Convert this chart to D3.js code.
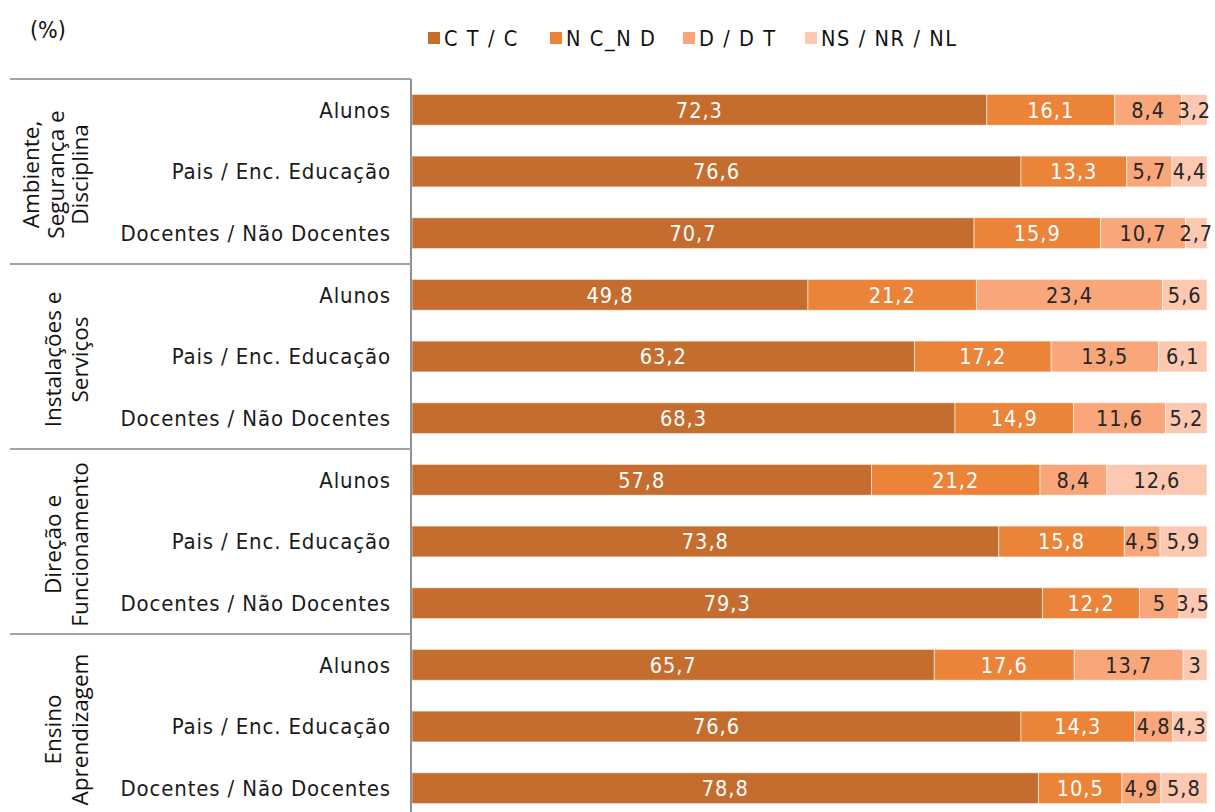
<!DOCTYPE html>
<html><head><meta charset="utf-8">
<script src="https://cdn.jsdelivr.net/npm/d3@7"></script>
<style>
html,body{margin:0;padding:0;background:#fff;}
svg{display:block;}
</style></head>
<body>
<svg id="chart" width="1215" height="812"></svg>
<script>
// ---- data ----
const groups = [
  ["Ambiente,", "Segurança e", "Disciplina"],
  ["Instalações e", "Serviços"],
  ["Direção e", "Funcionamento"],
  ["Ensino", "Aprendizagem"]
];
const respondents = ["Alunos", "Pais / Enc. Educação", "Docentes / Não Docentes"];
const seriesNames = ["C T / C", "N C_N D", "D / D T", "NS / NR / NL"];
const ctc   = [72.3, 76.6, 70.7, 49.8, 63.2, 68.3, 57.8, 73.8, 79.3, 65.7, 76.6, 78.8];
const ncnd  = [16.1, 13.3, 15.9, 21.2, 17.2, 14.9, 21.2, 15.8, 12.2, 17.6, 14.3, 10.5];
const ddt   = [8.4, 5.7, 10.7, 23.4, 13.5, 11.6, 8.4, 4.5, 5, 13.7, 4.8, 4.9];
const nsnr  = [3.2, 4.4, 2.7, 5.6, 6.1, 5.2, 12.6, 5.9, 3.5, 3, 4.3, 5.8];
const colors = ["#C46D2E", "#EB8439", "#F9A77A", "#FCC8B1"];
const labelColors = ["#ffffff", "#ffffff", "#262626", "#262626"];

// ---- build rows ----
const seriesVals = [ctc, ncnd, ddt, nsnr];
const rows = [];
groups.forEach((g, gi) => respondents.forEach((r, ri) => rows.push({id: gi*3+ri, group: gi, resp: r})));

const svg = d3.select("#chart");
const FONT = "'DejaVu Sans Condensed', 'DejaVu Sans', sans-serif";

const x = d3.scaleLinear().domain([0, 100]).range([412, 1207]);
const y = d3.scaleBand().domain(rows.map(d => d.id)).range([79, 819]).paddingInner(0.5).paddingOuter(0.25);

// stacked
const stackData = rows.map(d => {
  const o = {id: d.id};
  seriesNames.forEach((s, si) => o[s] = seriesVals[si][d.id]);
  return o;
});
const stacked = d3.stack().keys(seriesNames)(stackData);

const layers = svg.append("g").selectAll("g").data(stacked).join("g")
  .attr("fill", (d, i) => colors[i]);
layers.selectAll("rect").data(d => d).join("rect")
  .attr("x", d => x(d[0]))
  .attr("y", d => y(d.data.id))
  .attr("width", d => x(d[1]) - x(d[0]))
  .attr("height", y.bandwidth())
  .attr("stroke", "#fff").attr("stroke-opacity", 0.55).attr("stroke-width", 1);

// data labels
const lab = svg.append("g").style("font-family", FONT).style("font-size", "21.5px");
stacked.forEach((layer, si) => {
  lab.selectAll(null).data(layer).join("text")
    .attr("x", d => (x(d[0]) + x(d[1])) / 2)
    .attr("y", d => y(d.data.id) + y.bandwidth() / 2)
    .attr("dy", "0.36em")
    .attr("text-anchor", "middle")
    .attr("fill", labelColors[si])
    .style("letter-spacing", "1px")
    .text(d => String(seriesVals[si][d.data.id]).replace(".", ","));
});

// axis line and category labels
const yAxis = d3.axisLeft(y).tickSize(0).tickPadding(20).tickFormat(id => rows[id].resp);
const ax = svg.append("g").attr("transform", "translate(411,0)").call(yAxis);
ax.select(".domain").attr("stroke", "#8f8f8f").attr("stroke-width", 2).attr("d", "M0,79V819");
ax.selectAll("text").style("font-family", FONT).style("font-size", "22px").style("letter-spacing", "0.85px")
  .attr("fill", "#1a1a1a").attr("dy", "0.36em");

// group separators
const bounds = [79, 264, 449, 634, 819];
svg.append("g").selectAll("line").data(bounds).join("line")
  .attr("x1", 10).attr("x2", 411)
  .attr("y1", d => d).attr("y2", d => d)
  .attr("stroke", "#a3a3a3").attr("stroke-width", 2);

// group labels (rotated)
const gl = svg.append("g").style("font-family", "'Open Sans', sans-serif").style("font-size", "22.5px").attr("fill", "#111");
groups.forEach((lines, gi) => {
  const cy = (bounds[gi] + bounds[gi + 1]) / 2 + 3;
  const sp = lines.length === 3 ? 24.5 : 27;
  const t = gl.append("text")
    .attr("transform", `translate(0,${cy}) rotate(-90)`)
    .attr("text-anchor", "middle");
  lines.forEach((ln, li) => {
    t.append("tspan").attr("x", 0).attr("y", 88 - (lines.length - 1 - li) * sp).text(ln);
  });
});

// (%) label
svg.append("text").attr("x", 30).attr("y", 38).style("font-family", FONT).style("font-size", "23px").attr("fill", "#111").text("(%)");

// legend
const legX = [428, 550, 683, 805];
const leg = svg.append("g").selectAll("g").data(seriesNames).join("g")
  .attr("transform", (d, i) => `translate(${legX[i]},0)`);
leg.append("rect").attr("x", 0).attr("y", 32).attr("width", 12).attr("height", 12).attr("fill", (d, i) => colors[i]);
leg.append("text").attr("x", 16).attr("y", 38).attr("dy", "0.36em")
  .style("font-family", FONT).style("font-size", "21.5px").style("letter-spacing", "1.6px")
  .attr("fill", "#111").text(d => d);
</script>
</body></html>
